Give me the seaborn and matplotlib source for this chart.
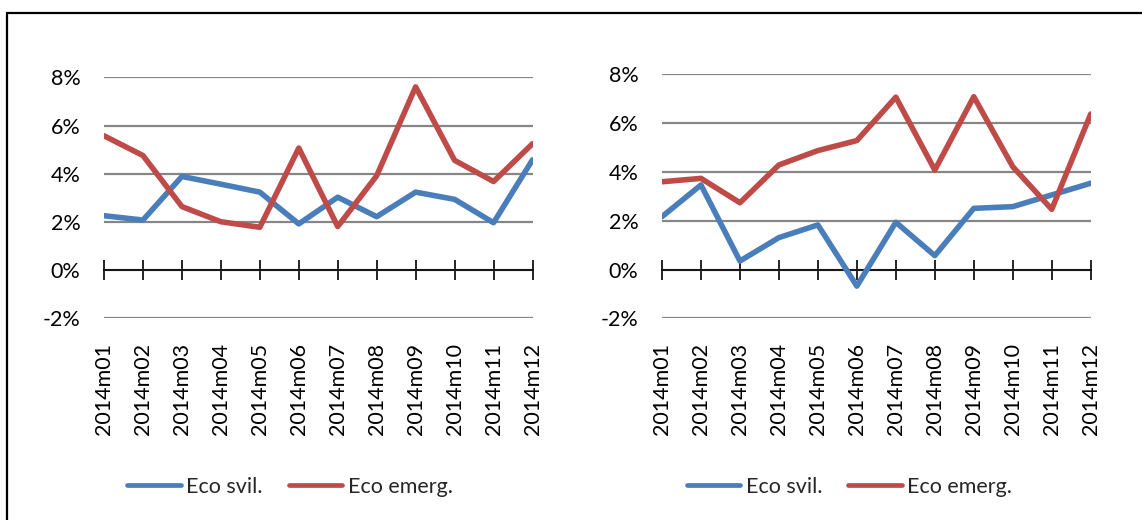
import numpy as np
import pandas as pd
import matplotlib
matplotlib.use("Agg")
import matplotlib.pyplot as plt
import seaborn as sns
from matplotlib.lines import Line2D
from matplotlib.patches import Rectangle

# ---------------- data ----------------
months = ["2014m01", "2014m02", "2014m03", "2014m04", "2014m05", "2014m06",
          "2014m07", "2014m08", "2014m09", "2014m10", "2014m11", "2014m12"]
series_names = ["Eco svil.", "Eco emerg."]

left_svil = [2.26, 2.08, 3.89, 3.57, 3.24, 1.92, 3.03, 2.22, 3.24, 2.94, 1.97, 4.58]
left_emerg = [5.58, 4.76, 2.64, 2.01, 1.78, 5.07, 1.81, 3.92, 7.61, 4.56, 3.68, 5.25]

right_svil = [2.17, 3.47, 0.35, 1.31, 1.83, -0.68, 1.94, 0.57, 2.51, 2.58, 3.06, 3.54]
right_emerg = [3.60, 3.74, 2.74, 4.29, 4.88, 5.29, 7.07, 4.08, 7.09, 4.22, 2.47, 6.38]

y_ticks = [-2, 0, 2, 4, 6, 8]
y_labels = ["-2%", "0%", "2%", "4%", "6%", "8%"]
colors = ["#4A7EBB", "#BE4B48"]

# ---------------- style ----------------
sns.set_theme(style="white")
plt.rcParams['font.family'] = ['Lato', 'DejaVu Sans']
FS = 15.5

W, H = 1142, 520
fig = plt.figure(figsize=(W / 100, H / 100), dpi=100)

panels = [
    ((left_svil, left_emerg), [104 / W, 1 - 318.3 / H, 428.5 / W, 240.8 / H], (290 / W, 1 - 487 / H)),
    ((right_svil, right_emerg), [662 / W, 1 - 318.3 / H, 428.7 / W, 243.8 / H], (849.5 / W, 1 - 487 / H)),
]

for (svil, emerg), rect, leg_pos in panels:
    ax = fig.add_axes(rect)
    df = pd.DataFrame({
        "month": months * 2,
        "value": list(svil) + list(emerg),
        "series": [series_names[0]] * len(months) + [series_names[1]] * len(months),
    })
    sns.lineplot(data=df, x="month", y="value", hue="series", hue_order=series_names,
                 palette=colors, linewidth=4.0, legend=False, sort=False, ax=ax, zorder=3)
    ax.set_xlim(0, len(months) - 1)
    ax.set_ylim(min(y_ticks), max(y_ticks))
    ax.set_xlabel("")
    ax.set_ylabel("")

    # horizontal gridlines
    ax.set_yticks(y_ticks)
    ax.set_yticklabels(y_labels)
    ax.yaxis.grid(True, color="#868686", linewidth=1.6)
    ax.xaxis.grid(False)
    ax.set_axisbelow(True)
    ax.tick_params(axis="y", length=0, pad=17, labelsize=FS, labelcolor="black")

    # category axis crossing at 0
    for s in ["top", "right", "left"]:
        ax.spines[s].set_visible(False)
    ax.spines["bottom"].set_position(("data", 0))
    ax.spines["bottom"].set_color("black")
    ax.spines["bottom"].set_linewidth(1.2)
    ax.spines["bottom"].set_zorder(2.5)
    ax.set_xticks(range(len(months)))
    ax.tick_params(axis="x", direction="inout", length=14, width=1.2, color="black",
                   labelbottom=False, bottom=True)

    # labels at the low end of the plot area
    sec = ax.secondary_xaxis("bottom")
    sec.set_xticks(range(len(months)), labels=months)
    sec.spines["bottom"].set_visible(False)
    sec.tick_params(axis="x", length=0, pad=18, labelsize=FS, labelrotation=90,
                    labelcolor="black")

    handles = [Line2D([], [], color=c, lw=3.4) for c in colors]
    fig.legend(handles, series_names, loc="center", bbox_to_anchor=leg_pos, ncol=2,
               frameon=False, fontsize=FS, handlelength=2.5, handletextpad=0.25,
               columnspacing=1.2, borderaxespad=0, borderpad=0)

# outer chart frame (partly cropped)
fig.add_artist(Rectangle((6.7 / W, -0.2), 1.2, 1.2 - 13 / H, fill=False, edgecolor="black",
                         linewidth=1.6, transform=fig.transFigure, clip_on=False))

fig.savefig("out.png", dpi=100, facecolor="white")
